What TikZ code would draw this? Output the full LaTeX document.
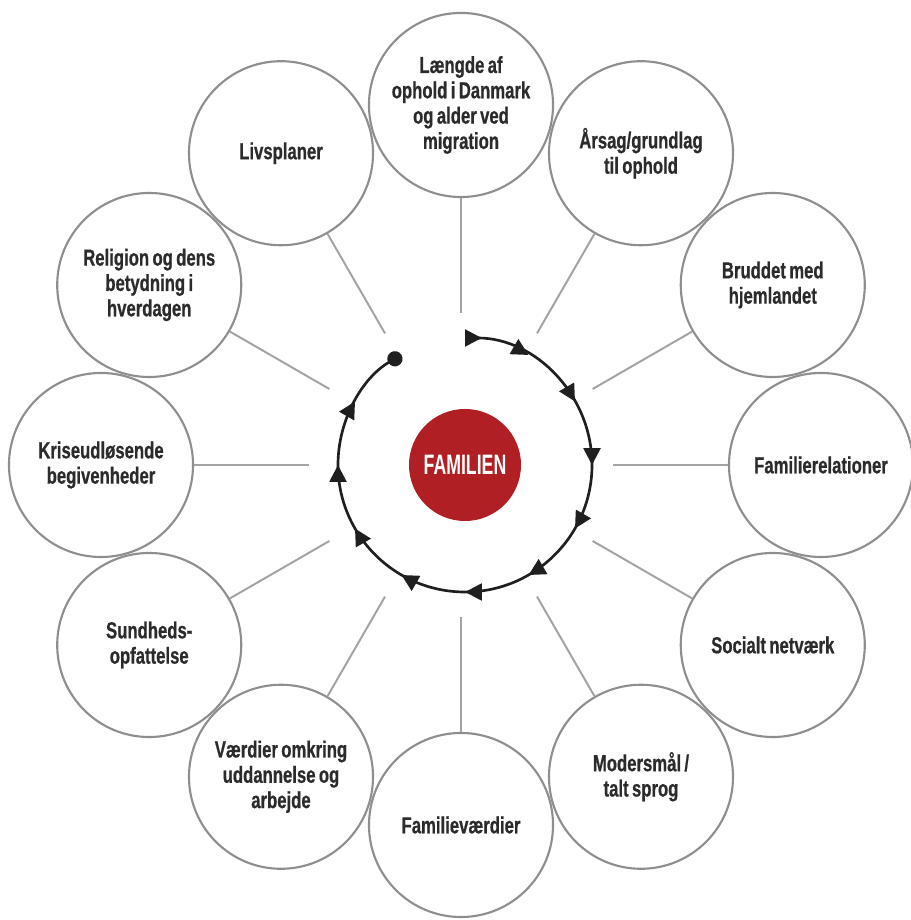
\documentclass[tikz,border=0pt]{standalone}
\usepackage{fontspec}
\usepackage{tikz}
\usetikzlibrary{arrows.meta,decorations.markings}

\newfontfamily\topicfont{Liberation Sans}[FakeStretch=0.72,WordSpace=0.72,FakeBold=0.6]
\newfontfamily\centrefont{Liberation Sans}[FakeStretch=0.63]
\definecolor{famred}{HTML}{B01F24}
\definecolor{rimgray}{HTML}{8E8E8E}
\definecolor{spokegray}{HTML}{A3A3A3}
\definecolor{txtgray}{HTML}{2B2B2B}

\begin{document}
\begin{tikzpicture}[x=0.025cm,y=0.025cm,
		topic/.style={circle,draw=rimgray,line width=1.5pt,minimum size=4.6cm,inner sep=0pt,align=flush center,text width=3.9cm,text=txtgray,font=\topicfont\bfseries\fontsize{16.5}{18}\selectfont},
		spoke/.style={draw=spokegray,line width=1.4pt},
		hub/.style={circle,fill=famred,minimum size=2.8cm,inner sep=0pt,text=white,font=\centrefont\bfseries\fontsize{20}{22}\selectfont},
		ring/.style={draw=black!88,line width=1.9pt,{Triangle[reversed,length=0.42cm,width=0.42cm]}-{Circle[length=0.38cm]},
			postaction={decorate},
			decoration={markings,mark=between positions 0.0909 and 0.91 step 0.090909 with {\arrow{Triangle[length=0.42cm,width=0.42cm]}}}}]
	\useasboundingbox (0,0) rectangle (911,920);
	% outer circles, clockwise from the top
	\begin{scope}[shift={(461,455)}]
		\foreach \txt [count=\i] in {{Længde af\\ophold i Danmark\\og alder ved\\migration},{Årsag/grundlag\\til ophold},{Bruddet med\\hjemlandet},{Familierelationer},{Socialt netværk},{Modersmål /\\talt sprog},{Familieværdier},{Værdier omkring\\uddannelse og\\arbejde},{Sundheds-\\opfattelse},{Kriseudløsende\\begivenheder},{Religion og dens\\betydning i\\hverdagen},{Livsplaner}}
			\node[topic] (t\i) at ({120-30*\i}:360) {\txt};
		\foreach \i in {1,...,12}
			\coordinate (s\i) at ({120-30*\i}:152);
		\foreach \i in {1,...,12}
			\draw[spoke] (t\i) -- (s\i);
	\end{scope}
	% centre and the ring round it
	\node[hub] (familien) at (465,455) {FAMILIEN};
	\draw[ring] ([shift={(90:127)}]familien.center) arc[start angle=90,end angle=-240,radius=127];
\end{tikzpicture}
\end{document}
